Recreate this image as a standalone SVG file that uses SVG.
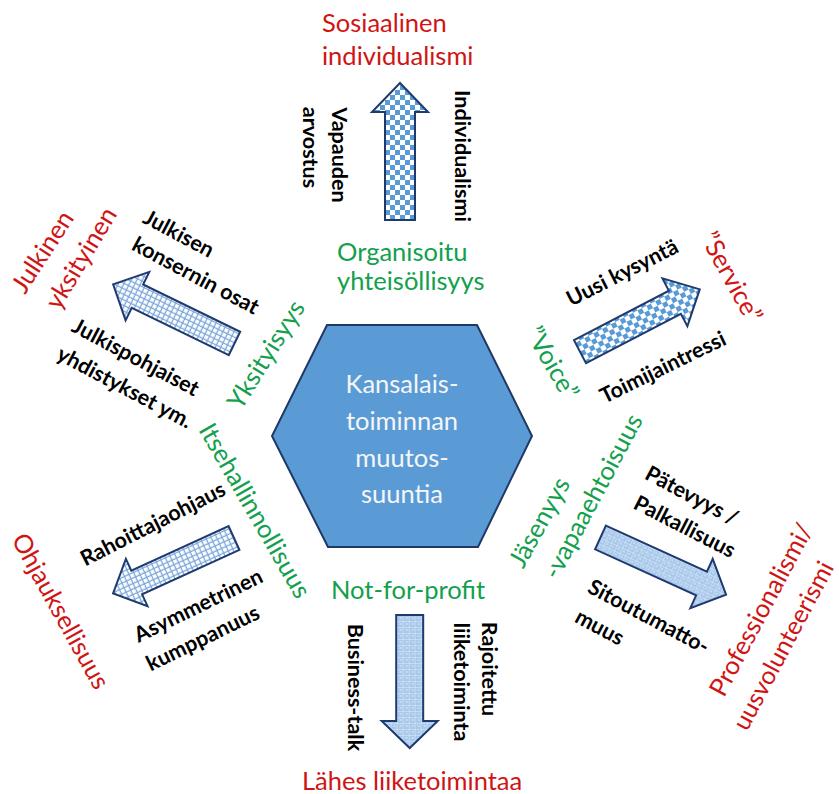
<svg xmlns="http://www.w3.org/2000/svg" width="839" height="794" viewBox="0 0 839 794">
<defs>
<style>
text{font-family:Lato,"Liberation Sans",sans-serif}
.red{fill:#D01414;font-size:25.5px}
.grn{fill:#12A04C;font-size:25.5px}
.blk{fill:#000;font-size:21.5px;font-weight:700}
.c{text-anchor:middle;dominant-baseline:central}
.ctr{fill:#F4F6F8;font-size:25.5px;text-anchor:middle}
.arw{stroke:#1F3A6E;stroke-width:2;stroke-linejoin:miter}
</style>
<pattern id="checker" width="10" height="10" patternUnits="userSpaceOnUse">
<rect width="10" height="10" fill="#fff"/>
<rect width="5" height="5" fill="#5B9BD5"/>
<rect x="5" y="5" width="5" height="5" fill="#5B9BD5"/>
</pattern>
<pattern id="grid" width="5" height="5" patternUnits="userSpaceOnUse">
<rect width="5" height="5" fill="#fff"/>
<path d="M0 0.6H5M0.6 0V5" stroke="#79A6DA" stroke-width="1.3"/>
</pattern>
<pattern id="dots" width="6" height="6" patternUnits="userSpaceOnUse">
<rect width="6" height="6" fill="#A8C8EB"/>
<path d="M0 0.3H6M0.3 0V6" stroke="#fff" stroke-width="0.5" opacity="0.8"/>
<circle cx="3" cy="3" r="0.7" fill="#fff"/>
</pattern>
</defs>
<rect width="839" height="794" fill="#fff"/>

<g id="arrows">
<polygon id="arrow-top" class="arw" fill="url(#checker)" transform="translate(400,220) rotate(-90)" points="0,-15 108,-15 108,-28 137,0 108,28 108,15 0,15"/>
<polygon id="arrow-upper-left" class="arw" fill="url(#grid)" transform="translate(234.5,343.5) rotate(206)" points="0,-13 108,-13 108,-27 135,0 108,27 108,13 0,13"/>
<polygon id="arrow-upper-right" class="arw" fill="url(#checker)" transform="translate(580,351.7) rotate(-27.5)" points="0,-13 107,-13 107,-27 135,0 107,27 107,13 0,13"/>
<polygon id="arrow-lower-left" class="arw" fill="url(#grid)" transform="translate(234,538) rotate(155.4)" points="0,-13 107,-13 107,-26 133,0 107,26 107,13 0,13"/>
<polygon id="arrow-lower-right" class="arw" fill="url(#dots)" transform="translate(600.5,537.5) rotate(24.5)" points="0,-13 111,-13 111,-27 138,0 111,27 111,13 0,13"/>
<polygon id="arrow-bottom" class="arw" fill="url(#dots)" transform="translate(409.7,615) rotate(90)" points="0,-13.5 106,-13.5 106,-28 133,0 106,28 106,13.5 0,13.5"/>
</g>

<g id="center">
<polygon points="327,325 477,325 532,436 478,547 328,547 272,436" fill="#5B9BD5" stroke="#1F3864" stroke-width="2"/>
<text class="ctr" x="402" y="393">Kansalais-</text>
<text class="ctr" x="402" y="430">toiminnan</text>
<text class="ctr" x="402" y="467">muutos-</text>
<text class="ctr" x="402" y="503">suuntia</text>
</g>

<g id="axis-labels">
<text class="grn" x="337" y="261">Organisoitu</text>
<text class="grn" x="337" y="290">yhteisöllisyys</text>
<text class="grn c" transform="translate(265,354) rotate(-58)">Yksityisyys</text>
<text class="grn c" transform="translate(256,510) rotate(60)">Itsehallinnollisuus</text>
<text class="grn c" transform="translate(553.3,362.5) rotate(60)">”Voice”</text>
<text class="grn c" transform="translate(538.3,521.7) rotate(-61)">Jäsenyys</text>
<text class="grn c" transform="translate(591.7,495.8) rotate(-62)">-vapaaehtoisuus</text>
<text class="grn" x="331" y="599">Not-for-profit</text>
</g>

<g id="dir-top">
<text class="red" x="322" y="32">Sosiaalinen</text>
<text class="red" x="322" y="65">individualismi</text>
<text class="blk c" transform="translate(463.3,156) rotate(90)">Individualismi</text>
<text class="blk c" transform="translate(340,155) rotate(90)">Vapauden</text>
<text class="blk c" transform="translate(310.7,147.5) rotate(90)">arvostus</text>
</g>

<g id="dir-upper-left">
<text class="red c" transform="translate(41.5,251) rotate(-57)">Julkinen</text>
<text class="red c" transform="translate(80,257.5) rotate(-59)">yksityinen</text>
<text class="blk c" transform="translate(179,233) rotate(28)">Julkisen</text>
<text class="blk c" transform="translate(196,275) rotate(28)">konsernin osat</text>
<text class="blk c" transform="translate(136,356.7) rotate(28)">Julkispohjaiset</text>
<text class="blk c" transform="translate(125,386.7) rotate(28)">yhdistykset ym.</text>
</g>

<g id="dir-upper-right">
<text class="red c" transform="translate(732.5,276.7) rotate(61)">”Service”</text>
<text class="blk c" transform="translate(622,272) rotate(-27)">Uusi kysyntä</text>
<text class="blk c" transform="translate(662.5,366.7) rotate(-26)">Toimijaintressi</text>
</g>

<g id="dir-lower-left">
<text class="red c" transform="translate(61.7,610.5) rotate(61)">Ohjauksellisuus</text>
<text class="blk c" transform="translate(152.5,523.3) rotate(-27)">Rahoittajaohjaus</text>
<text class="blk c" transform="translate(198,605) rotate(-26)">Asymmetrinen</text>
<text class="blk c" transform="translate(202.5,637.5) rotate(-26)">kumppanuus</text>
</g>

<g id="dir-lower-right">
<text class="red c" transform="translate(760,609) rotate(-62)">Professionalismi/</text>
<text class="red c" style="font-size:25px" transform="translate(782,645) rotate(-62)">uusvolunteerismi</text>
<text class="blk c" transform="translate(692,495) rotate(28)">Pätevyys /</text>
<text class="blk c" transform="translate(685,526) rotate(27)">Palkallisuus</text>
<text class="blk c" transform="translate(649,616) rotate(28)">Sitoutumatto-</text>
<text class="blk c" transform="translate(600,626.7) rotate(28)">muus</text>
</g>

<g id="dir-bottom">
<text class="red" x="302" y="790">Lähes liiketoimintaa</text>
<text class="blk c" transform="translate(355.7,687.5) rotate(90)">Business-talk</text>
<text class="blk c" transform="translate(490,669) rotate(90)">Rajoitettu</text>
<text class="blk c" transform="translate(461.7,682) rotate(90)">liiketoiminta</text>
</g>
</svg>
